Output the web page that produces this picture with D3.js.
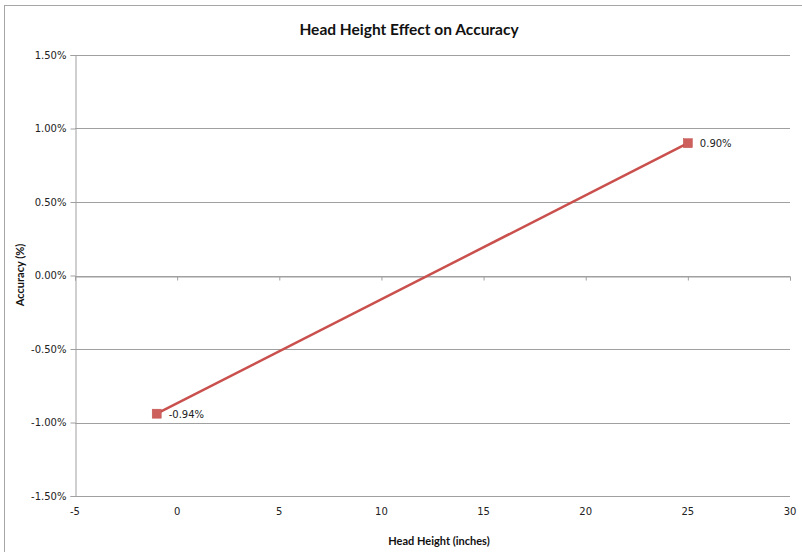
<!DOCTYPE html>
<html><head><meta charset="utf-8">
<script src="https://cdn.jsdelivr.net/npm/d3@7"></script>
<style>body{margin:0;background:#fff}svg{display:block}</style>
</head><body>
<script>
const title = "Head Height Effect on Accuracy";
const xTitle = "Head Height (inches)";
const yTitle = "Accuracy (%)";
const headHeight = [-1, 25];
const accuracy = [-0.0094, 0.0090];
const xTicks = [-5, 0, 5, 10, 15, 20, 25, 30];
const yTicks = [-0.015, -0.01, -0.005, 0, 0.005, 0.01, 0.015];

const W = 802, H = 552;
const pct = d => d3.format(".2%")(d).replace("\u2212", "-");
const svg = d3.select("body").append("svg").attr("width", W).attr("height", H);
svg.append("rect").attr("x", 4.5).attr("y", 5.5).attr("width", 820).attr("height", 600)
  .attr("fill", "#fff").attr("stroke", "#a6a6a6").attr("stroke-width", 1);

const x = d3.scaleLinear().domain([-5, 30]).range([75, 790]);
const y = d3.scaleLinear().domain([-0.015, 0.015]).range([496, 55]);
const grid = "#a0a0a0";
const tickFont = "Tahoma, 'DejaVu Sans', sans-serif";

// gridlines
svg.append("g").selectAll("line").data(yTicks).join("line")
  .attr("x1", x(-5)).attr("x2", x(30))
  .attr("y1", d => Math.round(y(d)) + 0.5).attr("y2", d => Math.round(y(d)) + 0.5)
  .attr("stroke", grid).attr("stroke-width", 1);

// y axis
const yAxis = svg.append("g").attr("transform", `translate(${x(-5)+0.5},0)`)
  .call(d3.axisLeft(y).tickValues(yTicks).tickFormat(pct).tickSize(5).tickPadding(4));
yAxis.select(".domain").attr("stroke", grid);
yAxis.selectAll(".tick line").attr("stroke", grid);
yAxis.selectAll(".tick text").attr("font-family", tickFont).attr("font-size", 10).attr("fill", "#222");

// x axis line at y=0 with ticks down
const xAxis = svg.append("g").attr("transform", `translate(0,${Math.round(y(0))+0.5})`)
  .call(d3.axisBottom(x).tickValues(xTicks).tickSize(4).tickFormat(""));
xAxis.select(".domain").attr("stroke", grid);
xAxis.selectAll(".tick line").attr("stroke", grid);

// x tick labels at bottom
svg.append("g").selectAll("text").data(xTicks).join("text")
  .attr("x", d => x(d)).attr("y", 515).attr("text-anchor", "middle")
  .attr("font-family", tickFont).attr("font-size", 10).attr("fill", "#222")
  .text(d => String(d));

// line
const pts = headHeight.map((h, i) => [h, accuracy[i]]);
svg.append("path").datum(pts)
  .attr("d", d3.line().x(d => x(d[0])).y(d => y(d[1])))
  .attr("fill", "none").attr("stroke", "#C9504D").attr("stroke-width", 2.5);
svg.append("g").selectAll("rect").data(pts).join("rect")
  .attr("x", d => x(d[0]) - 4.5).attr("y", d => y(d[1]) - 4.5)
  .attr("width", 9).attr("height", 9).attr("fill", "#CD5F5C").attr("stroke", "#C0504D").attr("stroke-width", 0.5);
svg.append("g").selectAll("text").data(pts).join("text")
  .attr("x", d => x(d[0]) + 12).attr("y", d => y(d[1]) + 4)
  .attr("font-family", tickFont).attr("font-size", 10).attr("fill", "#222")
  .text(d => pct(d[1]));

// titles
const titleFont = "Lato, 'Open Sans', sans-serif";
svg.append("text").attr("x", 409).attr("y", 35).attr("text-anchor", "middle")
  .attr("font-family", titleFont).attr("font-weight", "bold").attr("font-size", 15.5).attr("fill", "#111")
  .text(title);
svg.append("text").attr("x", 439).attr("y", 545).attr("text-anchor", "middle")
  .attr("font-family", titleFont).attr("font-weight", "bold").attr("font-size", 11).attr("fill", "#111")
  .text(xTitle);
svg.append("text").attr("transform", "translate(24,275) rotate(-90)").attr("text-anchor", "middle")
  .attr("font-family", titleFont).attr("font-weight", "bold").attr("font-size", 11).attr("fill", "#111")
  .text(yTitle);
</script>
</body></html>
